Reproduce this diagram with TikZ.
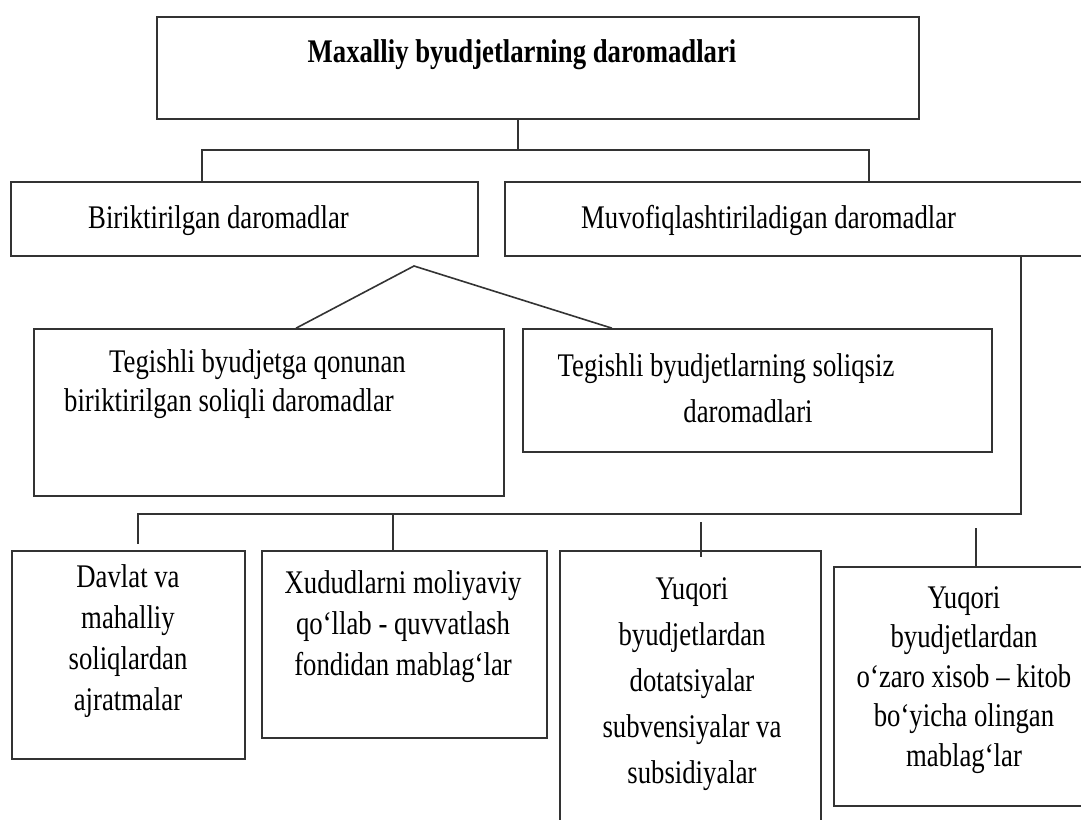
\documentclass[tikz,border=0pt]{standalone}
\usepackage{fontspec}
\setmainfont{Liberation Serif}[FakeStretch=0.81]

\tikzset{
  box/.style={draw=black!80, line width=1.6pt, inner sep=0pt},
  txt/.style={inner sep=0pt, align=center, font=\fontsize{33}{41}\selectfont},
  link/.style={draw=black!80, line width=1.6pt},
}

\begin{document}
\begin{tikzpicture}[x=1pt, y=-1pt]
    \useasboundingbox (0,0) rectangle (1081,819);
    \clip (0,0) rectangle (1081,819);
    % boxes
    \node[box, minimum width=762pt, minimum height=102pt] (mahalliy) at (538,68) {};
    \node[box, minimum width=467pt, minimum height=74pt] (biriktir) at (244.5,219) {};
    \node[box, minimum width=595pt, minimum height=74pt] (muvofiq) at (802.5,219) {};
    \node[box, minimum width=470pt, minimum height=167pt] (soliqli) at (269,412.5) {};
    \node[box, minimum width=469pt, minimum height=123pt] (soliqsiz) at (757.5,390.5) {};
    \node[box, minimum width=233pt, minimum height=208pt] (ajratma) at (128.5,655) {};
    \node[box, minimum width=285pt, minimum height=187pt] (fond) at (404.5,644.5) {};
    \node[box, minimum width=261pt, minimum height=299pt] (dotatsiya) at (690.5,700.5) {};
    \node[box, minimum width=266pt, minimum height=239pt] (ozaro) at (967,686.5) {};
    % texts
    \node[txt, anchor=base, font=\fontsize{33}{41}\selectfont\bfseries] (mahalliyT) at (522,62) {Maxalliy byudjetlarning daromadlari};
    \node[txt, anchor=base west] (biriktirT) at (88,228) {Biriktirilgan daromadlar};
    \node[txt, anchor=base west] (muvofiqT) at (581,228) {Muvofiqlashtiriladigan daromadlar};
    \node[txt, anchor=west, align=left, font=\fontsize{33}{39}\selectfont] (soliqliT) at (64,384) {\hspace*{45pt}Tegishli byudjetga qonunan\\biriktirilgan soliqli daromadlar};
    \node[txt, font=\fontsize{33}{46}\selectfont] (soliqsizT) at (726,388) {Tegishli byudjetlarning soliqsiz\\\hspace*{44pt}daromadlari};
    \node[txt] (ajratmaT) at (128,641) {Davlat va\\mahalliy\\soliqlardan\\ajratmalar};
    \node[txt] (fondT) at (403,627) {Xududlarni moliyaviy\\qo‘llab - quvvatlash\\fondidan mablag‘lar};
    \node[txt, font=\fontsize{33}{46}\selectfont] (dotatsiyaT) at (692,684) {Yuqori\\byudjetlardan\\dotatsiyalar\\subvensiyalar va\\subsidiyalar};
    \node[txt, font=\fontsize{33}{39.5}\selectfont] (ozaroT) at (964,680) {Yuqori\\byudjetlardan\\o‘zaro xisob – kitob\\bo‘yicha olingan\\mablag‘lar};
    % connectors
    \coordinate (busA) at (518,150);
    \coordinate (busAL) at (202,150);
    \coordinate (busAR) at (869,150);
    \draw[link] (busA |- mahalliy.south) -- (busA);
    \draw[link] (busAL |- biriktir.north) -- (busAL) -- (busAR) -- (busAR |- muvofiq.north);
    \coordinate (apex) at (414,266);
    \coordinate (apexL) at (296,0);
    \coordinate (apexR) at (612,0);
    \draw[link] (apexL |- soliqli.north) -- (apex) -- (apexR |- soliqsiz.north);
    \coordinate (busB) at (1021,514);
    \coordinate (busBL) at (138,514);
    \draw[link, shorten >=6pt] (busB |- muvofiq.south) -- (busB) -- (busBL) -- (busBL |- ajratma.north);
    \coordinate (dropB) at (393,514);
    \coordinate (dropC) at (701,514);
    \coordinate (dropD) at (976,514);
    \draw[link] (dropB) -- (dropB |- fond.north);
    \draw[link, shorten <=8pt, shorten >=-7pt] (dropC) -- (dropC |- dotatsiya.north);
    \draw[link, shorten <=14pt] (dropD) -- (dropD |- ozaro.north);
\end{tikzpicture}
\end{document}
